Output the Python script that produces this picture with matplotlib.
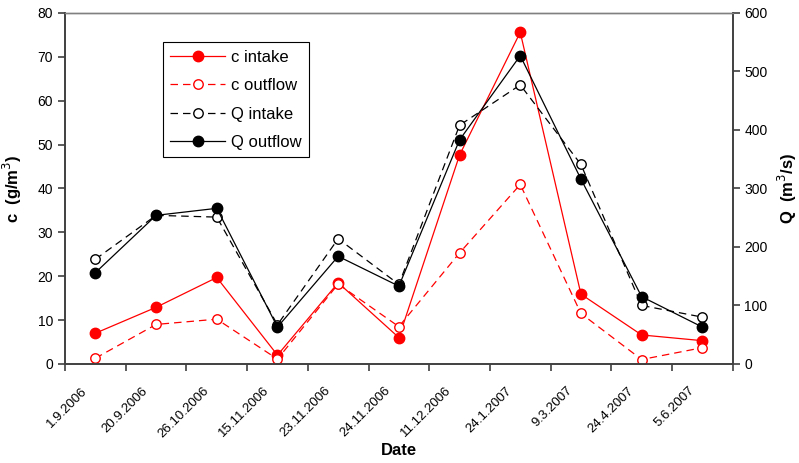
import matplotlib.pyplot as plt
from matplotlib.transforms import ScaledTranslation

plt.rcParams["font.family"] = ["Liberation Sans", "DejaVu Sans"]

dates = ["1.9.2006", "20.9.2006", "26.10.2006", "15.11.2006", "23.11.2006",
         "24.11.2006", "11.12.2006", "24.1.2007", "9.3.2007", "24.4.2007", "5.6.2007"]
c_intake = [7.0, 12.9, 19.7, 2.0, 18.5, 6.0, 47.6, 75.6, 15.9, 6.6, 5.3]
c_outflow = [1.3, 9.0, 10.2, 1.1, 18.2, 8.5, 25.3, 40.9, 11.5, 1.0, 3.7]
q_intake = [179, 254, 251, 67, 214, 136, 408, 477, 341, 100, 80]
q_outflow = [156, 254, 266, 63, 184, 133, 383, 527, 316, 115, 63]

AX_COL = "#404040"
x = list(range(len(dates)))

fig = plt.figure(figsize=(7.99, 4.63), dpi=100)
ax = fig.add_axes([0.0814, 0.214, 0.8356, 0.758])
ax2 = ax.twinx()

ms_f = 7.5
ms_o = 6.8
l1, = ax.plot(x, c_intake, color="red", lw=0.9, marker="o", ms=ms_f,
              mfc="red", mec="red", label="c intake")
l2, = ax.plot(x, c_outflow, color="red", lw=0.9, ls=(0, (6, 4)), marker="o", ms=ms_o,
              mfc="white", mec="red", mew=1.0, label="c outflow")
l3, = ax2.plot(x, q_intake, color="black", lw=0.9, ls=(0, (6, 4)), marker="o", ms=ms_o,
               mfc="white", mec="black", mew=1.0, label="Q intake")
l4, = ax2.plot(x, q_outflow, color="black", lw=0.9, marker="o", ms=ms_f,
               mfc="black", mec="black", label="Q outflow")

ax.set_xlim(-0.5, len(dates) - 0.5)
ax.set_ylim(0, 80)
ax2.set_ylim(0, 600)
ax.set_yticks(range(0, 81, 10))
ax2.set_yticks(range(0, 601, 100))

# category axis: tick marks on boundaries, labels at centres
ax.set_xticks([i - 0.5 for i in range(len(dates) + 1)])
ax.set_xticklabels([])
ax.set_xticks(x, minor=True)
ax.set_xticklabels(dates, minor=True, rotation=45, ha="right", va="center",
                   rotation_mode="anchor", fontsize=9.5)
ax.tick_params(axis="x", which="minor", length=0, pad=18)
ax.tick_params(axis="x", which="major", length=5, width=1.2, color=AX_COL)
ax.tick_params(axis="y", length=5, width=1.2, color=AX_COL, labelsize=10)
ax2.tick_params(axis="y", length=5, width=1.2, color=AX_COL, labelsize=10)
shift = ScaledTranslation(-0.1, 0, fig.dpi_scale_trans)
for lab in ax.get_xticklabels(minor=True):
    lab.set_transform(lab.get_transform() + shift)

for a in (ax, ax2):
    for s in a.spines.values():
        s.set_color(AX_COL)
        s.set_linewidth(1.2)
    a.spines["top"].set_color("#808080")
    a.spines["top"].set_linewidth(1.0)

ax.set_ylabel("c  (g/m$^3$)", fontsize=12, fontweight="bold", labelpad=10)
ax2.set_ylabel("Q  (m$^3$/s)", fontsize=12, fontweight="bold", labelpad=6,
               rotation=90)
ax.set_xlabel("Date", fontsize=12, fontweight="bold")
ax.xaxis.set_label_coords(0.5, -0.225)

leg = ax2.legend(handles=[l1, l2, l3, l4], loc="upper left",
                 bbox_to_anchor=(0.134, 0.94), fontsize=12, frameon=True,
                 fancybox=False, edgecolor="black", framealpha=1,
                 handlelength=3.3, borderpad=0.45, labelspacing=0.8,
                 handletextpad=0.35)
leg.get_frame().set_linewidth(0.8)

fig.savefig("out.png", dpi=100)
